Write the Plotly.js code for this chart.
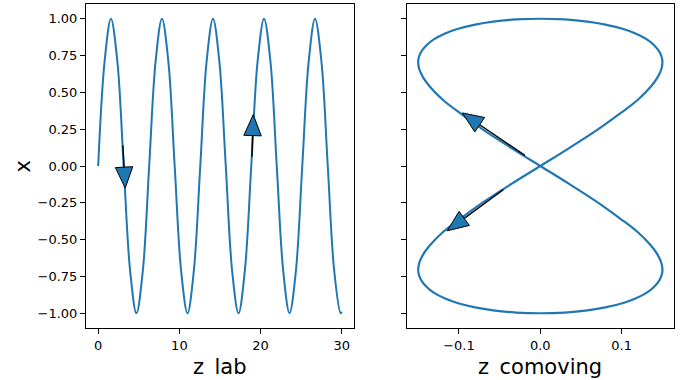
<!DOCTYPE html>
<html><head><meta charset="utf-8">
<script src="https://cdn.plot.ly/plotly-3.0.1.min.js"></script>
<style>html,body{margin:0;padding:0;background:#fff;} #chart{width:688px;height:380px;}</style>
</head><body><div id="chart"></div>
<script>
// ---- data ----
const zLab = [0.00,0.79,1.57,2.36,3.14,3.93,4.71,5.50,6.28,7.07,7.85,8.64,9.42,10.21,11.00,11.78,12.57,13.35,14.14,14.92,15.71,16.49,17.28,18.06,18.85,19.63,20.42,21.21,21.99,22.78,23.56,24.35,25.13,25.92,26.70,27.49,28.27,29.06,29.85,30.00];
const xLab = [0.00,0.71,1.00,0.71,0.00,-0.71,-1.00,-0.71,0.00,0.71,1.00,0.71,0.00,-0.71,-1.00,-0.71,0.00,0.71,1.00,0.71,0.00,-0.71,-1.00,-0.71,0.00,0.71,1.00,0.71,0.00,-0.71,-1.00,-0.71,0.00,0.71,1.00,0.71,0.00,-0.71,-1.00,-0.99];

// figure-eight: centre -> upper-left -> top -> upper-right -> centre -> lower-left -> bottom -> lower-right -> centre
const zCom = [0.000,-0.035,-0.070,-0.099,-0.120,-0.136,-0.144,-0.149,-0.150,-0.147,-0.140,-0.131,-0.117,-0.102,-0.080,-0.058,-0.030,0.000,
              0.030,0.058,0.080,0.102,0.117,0.131,0.140,0.147,0.150,0.149,0.144,0.136,0.120,0.099,0.070,0.035,0.000,
              -0.035,-0.070,-0.099,-0.120,-0.136,-0.144,-0.149,-0.150,-0.147,-0.140,-0.131,-0.117,-0.102,-0.080,-0.058,-0.030,0.000,
              0.030,0.058,0.080,0.102,0.117,0.131,0.140,0.147,0.150,0.149,0.144,0.136,0.120,0.099,0.070,0.035,0.000];
const xCom = [0.000,0.120,0.245,0.360,0.450,0.540,0.600,0.660,0.720,0.770,0.820,0.860,0.900,0.930,0.960,0.980,0.995,1.000,
              0.995,0.980,0.960,0.930,0.900,0.860,0.820,0.770,0.720,0.660,0.600,0.540,0.450,0.360,0.245,0.120,0.000,
              -0.120,-0.245,-0.360,-0.450,-0.540,-0.600,-0.660,-0.720,-0.770,-0.820,-0.860,-0.900,-0.930,-0.960,-0.980,-0.995,-1.000,
              -0.995,-0.980,-0.960,-0.930,-0.900,-0.860,-0.820,-0.770,-0.720,-0.660,-0.600,-0.540,-0.450,-0.360,-0.245,-0.120,0.000];

const labArrowTailZ = [3.04, 18.93];
const labArrowTailX = [0.14, 0.063];
const labArrowTipZ  = [3.33, 19.09];
const labArrowTipX  = [-0.15, 0.349];

const comArrowTailZ = [-0.019, -0.0455];
const comArrowTailX = [0.072, -0.161];
const comArrowTipZ  = [-0.0959, -0.1144];
const comArrowTipX  = [0.3605, -0.440];

const yTicks = [-1.00,-0.75,-0.50,-0.25,0.00,0.25,0.50,0.75,1.00];
const labTicks = [0,10,20,30];
const comTicks = [-0.1,0.0,0.1];

// ---- layout geometry (pixels) ----
const W = 688, H = 380;
const plotTop = 4, plotBot = 328;
const L1 = 86, R1 = 354, L2 = 406.7, R2 = 674;
const xr1 = [-1.5, 31.5], xr2 = [-0.1643, 0.1644], yr = [-1.1, 1.1];
const blue = '#1f77b4';
const font = {family: 'DejaVu Sans', color: '#000'};

function arrowTraces(tz, tx, hz, hx, xa, ya, xaxis, yaxis) {
  const toPx = (z, x) => [xa.p0 + (z - xa.r[0]) / (xa.r[1] - xa.r[0]) * xa.len,
                          ya.p0 + (ya.r[1] - x) / (ya.r[1] - ya.r[0]) * ya.len];
  const toD = (px, py) => [xa.r[0] + (px - xa.p0) / xa.len * (xa.r[1] - xa.r[0]),
                           ya.r[1] - (py - ya.p0) / ya.len * (ya.r[1] - ya.r[0])];
  const out = [];
  for (let i = 0; i < tz.length; i++) {
    const t = toPx(tz[i], tx[i]), h = toPx(hz[i], hx[i]);
    const dx = h[0] - t[0], dy = h[1] - t[1], d = Math.hypot(dx, dy);
    const ux = dx / d, uy = dy / d, nx = -uy, ny = ux;
    const HL = 21, HW = 8.7;
    const b = [h[0] - ux * HL, h[1] - uy * HL];
    const c1 = toD(b[0] + nx * HW, b[1] + ny * HW), c2 = toD(b[0] - nx * HW, b[1] - ny * HW);
    const bd = toD(b[0], b[1]);
    out.push({x: [tz[i], bd[0]], y: [tx[i], bd[1]], mode: 'lines', xaxis, yaxis,
              line: {color: '#000', width: 1.4}, hoverinfo: 'skip', showlegend: false});
    out.push({x: [c1[0], hz[i], c2[0], c1[0]], y: [c1[1], hx[i], c2[1], c1[1]], mode: 'lines',
              fill: 'toself', fillcolor: blue, xaxis, yaxis,
              line: {color: '#000', width: 1}, hoverinfo: 'skip', showlegend: false});
  }
  return out;
}

const yA = {r: yr, p0: plotTop, len: plotBot - plotTop};
const traces = [
  {x: zLab, y: xLab, mode: 'lines', line: {color: blue, width: 2, shape: 'spline', smoothing: 1}, xaxis: 'x', yaxis: 'y', showlegend: false},
  {x: zCom, y: xCom, mode: 'lines', line: {color: blue, width: 2.2, shape: 'spline', smoothing: 1}, xaxis: 'x2', yaxis: 'y2', showlegend: false},
  ...arrowTraces(labArrowTailZ, labArrowTailX, labArrowTipZ, labArrowTipX, {r: xr1, p0: L1, len: R1 - L1}, yA, 'x', 'y'),
  ...arrowTraces(comArrowTailZ, comArrowTailX, comArrowTipZ, comArrowTipX, {r: xr2, p0: L2, len: R2 - L2}, yA, 'x2', 'y2')
];

const axBase = {showline: true, mirror: true, linecolor: '#000', linewidth: 1, ticks: 'outside', ticklen: 5,
  tickwidth: 1, tickcolor: '#000', showgrid: false, zeroline: false, automargin: false,
  tickfont: Object.assign({size: 13}, font)};
const yDom = [(H - plotBot) / H, (H - plotTop) / H];

const layout = {
  width: W, height: H, margin: {l: 0, r: 0, t: 0, b: 0}, paper_bgcolor: '#fff', plot_bgcolor: '#fff',
  showlegend: false, hovermode: false,
  xaxis: Object.assign({}, axBase, {domain: [L1 / W, R1 / W], range: xr1, tickvals: labTicks, anchor: 'y'}),
  yaxis: Object.assign({}, axBase, {domain: yDom, range: yr, tickvals: yTicks, tickformat: '.2f', anchor: 'x'}),
  xaxis2: Object.assign({}, axBase, {domain: [L2 / W, R2 / W], range: xr2, tickvals: comTicks, tickformat: '.1f', anchor: 'y2'}),
  yaxis2: Object.assign({}, axBase, {domain: yDom, range: yr, tickvals: yTicks, showticklabels: false, anchor: 'x2'}),
  annotations: [
    {text: 'z\u2002lab', xref: 'paper', yref: 'paper', x: (L1 + R1) / 2 / W, y: (H - 366.5) / H,
     xanchor: 'center', yanchor: 'middle', showarrow: false, font: Object.assign({size: 21}, font)},
    {text: 'z\u2002comoving', xref: 'paper', yref: 'paper', x: (L2 + R2) / 2 / W, y: (H - 366.5) / H,
     xanchor: 'center', yanchor: 'middle', showarrow: false, font: Object.assign({size: 21}, font)},
    {text: 'x', xref: 'paper', yref: 'paper', x: 22 / W, y: (H - 166.5) / H, textangle: -90,
     xanchor: 'center', yanchor: 'middle', showarrow: false, font: Object.assign({size: 21}, font)}
  ]
};

Plotly.newPlot('chart', traces, layout, {staticPlot: true, displayModeBar: false});
</script></body></html>
